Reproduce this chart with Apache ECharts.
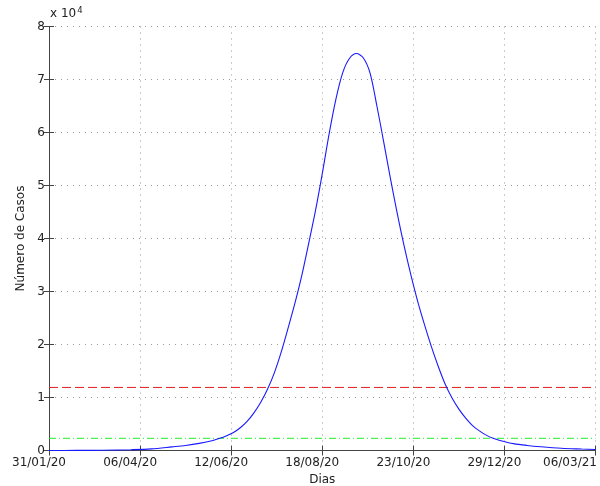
<!DOCTYPE html>
<html>
<head>
<meta charset="utf-8">
<script src="https://cdn.jsdelivr.net/npm/echarts@6/dist/echarts.min.js"></script>
<style>html,body{margin:0;padding:0;background:#fff}#c{width:600px;height:486px}</style>
</head>
<body>
<div id="c"></div>
<script>
// Days since 31/01/20
var days = [0, 20, 40, 60, 75, 90, 100, 110, 120, 125, 130, 135, 140, 145, 150, 155, 160, 165, 170, 175, 180, 185, 190, 195, 200, 205, 210, 215, 220, 225, 230, 235, 240, 245, 250, 255, 260, 265, 270, 275, 280, 285, 290, 295, 300, 305, 310, 315, 320, 325, 330, 340, 350, 360, 375, 390, 400];
// Number of cases
var cases = [0, 20, 50, 150, 300, 680, 950, 1350, 1900, 2300, 2800, 3400, 4300, 5500, 7100, 9100, 11600, 14700, 18600, 23100, 27800, 33000, 39000, 45200, 52200, 59700, 66300, 71300, 74000, 74900, 74100, 71200, 65000, 58200, 51200, 44600, 38500, 33000, 28000, 23600, 19500, 15800, 12500, 9900, 7800, 6100, 4700, 3700, 2900, 2300, 1900, 1300, 950, 700, 420, 280, 200];
var redLevel = 11900;
var greenLevel = 2300;
var xTickLabels = ['31/01/20', '06/04/20', '12/06/20', '18/08/20', '23/10/20', '29/12/20', '06/03/21'];
var yTickLabels = ['0', '1', '2', '3', '4', '5', '6', '7', '8'];
var xMax = 400, yMax = 80000;

var FONT = 'DejaVu Sans';
var curve = days.map(function (d, i) { return [d, cases[i]]; });
var xStep = xMax / (xTickLabels.length - 1);

var chart = echarts.init(document.getElementById('c'), null, {renderer: 'canvas'});
var axisLineStyle = {color: '#444', width: 1};
chart.setOption({
  animation: false,
  backgroundColor: '#fff',
  textStyle: {fontFamily: FONT},
  grid: {left: 49, right: 4.5, top: 26.5, bottom: 35.5, containLabel: false, outerBoundsMode: 'none'},
  graphic: [{
    type: 'text', left: 50, top: 6,
    style: {
      text: '{a|x 10}{b|4}',
      rich: {
        a: {fontFamily: FONT, fontSize: 12, fill: '#222', verticalAlign: 'bottom', lineHeight: 14},
        b: {fontFamily: FONT, fontSize: 8.5, fill: '#222', verticalAlign: 'top', padding: [0, 0, 8, 1], lineHeight: 14}
      }
    }
  }],
  xAxis: [{
    type: 'value', min: 0, max: xMax, interval: xStep,
    name: 'Dias', nameLocation: 'middle', nameGap: 21,
    nameTextStyle: {fontFamily: FONT, fontSize: 12, color: '#222'},
    axisLine: {show: true, lineStyle: axisLineStyle},
    axisTick: {show: true, inside: true, length: 5, lineStyle: axisLineStyle},
    axisLabel: {
      margin: 6, color: '#222', fontFamily: FONT, fontSize: 12,
      showMinLabel: true, showMaxLabel: true,
      formatter: function (v) {
        var i = Math.round(v / xStep);
        if (i === xTickLabels.length - 1) return '{b|' + xTickLabels[i] + '}';
        return '{a|' + xTickLabels[i] + '}';
      },
      rich: {
        a: {fontFamily: FONT, fontSize: 12, color: '#222', padding: [0, 20, 0, 0]},
        b: {fontFamily: FONT, fontSize: 12, color: '#222', padding: [0, 51, 0, 0]}
      }
    },
    splitLine: {show: true, lineStyle: {color: '#999', width: 1, type: [1, 5]}}
  }, {
    type: 'value', min: 0, max: xMax, interval: xStep, position: 'top',
    axisLine: {show: true, lineStyle: axisLineStyle},
    axisTick: {show: true, inside: true, length: 5, lineStyle: axisLineStyle},
    axisLabel: {show: false}, splitLine: {show: false}
  }],
  yAxis: [{
    type: 'value', min: 0, max: yMax, interval: 10000,
    name: 'Número de Casos', nameLocation: 'middle', nameGap: 21,
    nameTextStyle: {fontFamily: FONT, fontSize: 12, color: '#222'},
    axisLine: {show: true, lineStyle: axisLineStyle},
    axisTick: {show: true, inside: true, length: 5, lineStyle: axisLineStyle},
    axisLabel: {
      margin: 4, color: '#222', fontFamily: FONT, fontSize: 12,
      formatter: function (v) { return yTickLabels[Math.round(v / 10000)]; }
    },
    splitLine: {show: true, lineStyle: {color: '#999', width: 1, type: [1, 5]}}
  }, {
    type: 'value', min: 0, max: yMax, interval: 10000, position: 'right',
    axisLine: {show: true, lineStyle: axisLineStyle},
    axisTick: {show: true, inside: true, length: 5, lineStyle: axisLineStyle},
    axisLabel: {show: false}, splitLine: {show: false}
  }],
  series: [{
    type: 'line', data: [[0, redLevel], [xMax, redLevel]],
    symbol: 'none', lineStyle: {color: '#e02020', width: 1, type: [9, 4]}, z: 3
  }, {
    type: 'line', data: [[0, greenLevel], [xMax, greenLevel]],
    symbol: 'none', lineStyle: {color: '#22ee22', width: 1, type: [7, 3, 1, 3]}, z: 3
  }, {
    type: 'line', data: curve, smooth: 0.3, symbol: 'none',
    lineStyle: {color: '#1a1aff', width: 1.1}, z: 4
  }]
});
</script>
</body>
</html>
